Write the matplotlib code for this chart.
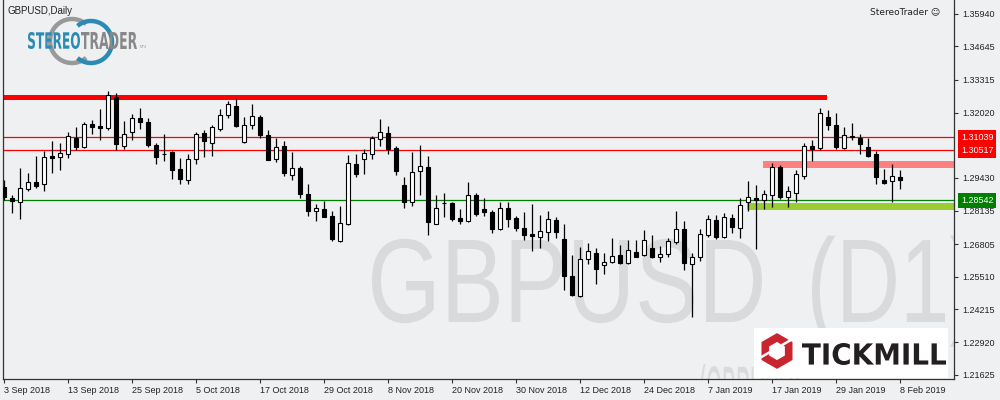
import matplotlib
matplotlib.use("Agg")
import matplotlib.pyplot as plt
import numpy as np
import pandas as pd
from matplotlib.patches import PathPatch, Rectangle, RegularPolygon, Arc
from matplotlib.textpath import TextPath
from matplotlib.font_manager import FontProperties
from matplotlib.transforms import Affine2D, IdentityTransform

# GBPUSD daily, 3 Sep 2018 - 8 Feb 2019 (MT4 skips 25 Dec and 1 Jan)
days = pd.bdate_range("2018-09-03", "2019-02-08")
days = days[~days.isin(pd.to_datetime(["2018-12-25", "2019-01-01"]))]

opens = [1.2907, 1.2863, 1.2849, 1.2900, 1.2926, 1.2918, 1.3031, 1.3025, 1.3039, 1.3102,
         1.3064, 1.3155, 1.3149, 1.3140, 1.3264, 1.3071, 1.3124, 1.3179, 1.3165, 1.3072,
         1.3037, 1.3046, 1.2978, 1.2936, 1.3018, 1.3120, 1.3083, 1.3138, 1.3191, 1.3228,
         1.3084, 1.3151, 1.3184, 1.3113, 1.3018, 1.3069, 1.2956, 1.2982, 1.2879, 1.2813,
         1.2820, 1.2792, 1.2694, 1.2761, 1.2998, 1.3016, 1.3037, 1.3096, 1.3120, 1.3061,
         1.2915, 1.2846, 1.2969, 1.2986, 1.2761, 1.2844, 1.2844, 1.2784, 1.2771, 1.2874,
         1.2820, 1.2808, 1.2739, 1.2823, 1.2784, 1.2746, 1.2721, 1.2708, 1.2730, 1.2776,
         1.2700, 1.2553, 1.2475, 1.2620, 1.2645, 1.2597, 1.2608, 1.2636, 1.2604, 1.2649,
         1.2639, 1.2664, 1.2628, 1.2641, 1.2688, 1.2739, 1.2600, 1.2628, 1.2715, 1.2775,
         1.2710, 1.2783, 1.2743, 1.2849, 1.2862, 1.2855, 1.2874, 1.2985, 1.2868, 1.2884,
         1.2952, 1.3068, 1.3063, 1.3183, 1.3153, 1.3063, 1.3106, 1.3101, 1.3065, 1.3038,
         1.2935, 1.2929, 1.2947]
highs = [1.2935, 1.2875, 1.2982, 1.2962, 1.3031, 1.3051, 1.3089, 1.3081, 1.3125, 1.3145,
         1.3165, 1.3174, 1.3217, 1.3289, 1.3279, 1.3168, 1.3196, 1.3220, 1.3179, 1.3080,
         1.3117, 1.3051, 1.3022, 1.3039, 1.3126, 1.3132, 1.3153, 1.3217, 1.3249, 1.3258,
         1.3183, 1.3236, 1.3191, 1.3133, 1.3101, 1.3089, 1.3046, 1.2990, 1.2919, 1.2840,
         1.2853, 1.2812, 1.2832, 1.3034, 1.3039, 1.3056, 1.3110, 1.3176, 1.3149, 1.3069,
         1.2947, 1.3046, 1.3073, 1.3029, 1.2874, 1.2883, 1.2846, 1.2819, 1.2927, 1.2883,
         1.2862, 1.2817, 1.2848, 1.2848, 1.2792, 1.2808, 1.2838, 1.2796, 1.2812, 1.2789,
         1.2760, 1.2637, 1.2669, 1.2685, 1.2664, 1.2645, 1.2704, 1.2677, 1.2697, 1.2697,
         1.2737, 1.2716, 1.2672, 1.2704, 1.2811, 1.2771, 1.2644, 1.2740, 1.2797, 1.2797,
         1.2803, 1.2799, 1.2862, 1.2930, 1.2915, 1.2894, 1.3001, 1.2994, 1.2910, 1.2974,
         1.3080, 1.3093, 1.3220, 1.3213, 1.3200, 1.3145, 1.3161, 1.3117, 1.3102, 1.3050,
         1.2978, 1.2997, 1.2974]
lows = [1.2855, 1.2805, 1.2780, 1.2891, 1.2904, 1.2891, 1.2962, 1.2976, 1.3023, 1.3054,
        1.3061, 1.3117, 1.3094, 1.3134, 1.3054, 1.3058, 1.3094, 1.3138, 1.3064, 1.2999,
        1.3011, 1.2939, 1.2919, 1.2919, 1.2999, 1.3026, 1.3031, 1.3130, 1.3182, 1.3145,
        1.3082, 1.3138, 1.3100, 1.3013, 1.3007, 1.2952, 1.2936, 1.2864, 1.2793, 1.2773,
        1.2788, 1.2692, 1.2690, 1.2757, 1.2948, 1.2960, 1.3018, 1.3071, 1.3039, 1.2956,
        1.2825, 1.2833, 1.2875, 1.2718, 1.2759, 1.2789, 1.2772, 1.2761, 1.2767, 1.2793,
        1.2793, 1.2723, 1.2735, 1.2750, 1.2733, 1.2696, 1.2654, 1.2666, 1.2694, 1.2706,
        1.2499, 1.2476, 1.2471, 1.2603, 1.2524, 1.2563, 1.2606, 1.2600, 1.2603, 1.2629,
        1.2633, 1.2627, 1.2611, 1.2631, 1.2681, 1.2577, 1.2391, 1.2612, 1.2708, 1.2702,
        1.2706, 1.2726, 1.2706, 1.2813, 1.2662, 1.2821, 1.2829, 1.2858, 1.2829, 1.2849,
        1.2940, 1.3011, 1.3054, 1.3134, 1.3056, 1.3056, 1.3093, 1.3039, 1.3026, 1.2920,
        1.2920, 1.2849, 1.2900]
closes = [1.2867, 1.2851, 1.2902, 1.2926, 1.2912, 1.3026, 1.3023, 1.3042, 1.3108, 1.3065,
          1.3157, 1.3146, 1.3142, 1.3270, 1.3079, 1.3116, 1.3179, 1.3166, 1.3073, 1.3027,
          1.3036, 1.2976, 1.2939, 1.3019, 1.3117, 1.3090, 1.3144, 1.3191, 1.3235, 1.3150,
          1.3151, 1.3187, 1.3114, 1.3015, 1.3064, 1.2964, 1.2982, 1.2880, 1.2813, 1.2823,
          1.2789, 1.2702, 1.2764, 1.3001, 1.2960, 1.3042, 1.3101, 1.3124, 1.3059, 1.2972,
          1.2846, 1.2965, 1.2989, 1.2769, 1.2822, 1.2842, 1.2780, 1.2773, 1.2874, 1.2801,
          1.2807, 1.2740, 1.2823, 1.2781, 1.2746, 1.2718, 1.2712, 1.2731, 1.2779, 1.2730,
          1.2555, 1.2479, 1.2620, 1.2652, 1.2581, 1.2608, 1.2632, 1.2607, 1.2656, 1.2631,
          1.2696, 1.2631, 1.2640, 1.2692, 1.2739, 1.2605, 1.2631, 1.2719, 1.2779, 1.2708,
          1.2787, 1.2747, 1.2834, 1.2866, 1.2857, 1.2878, 1.2985, 1.2866, 1.2890, 1.2957,
          1.3068, 1.3059, 1.3200, 1.3154, 1.3067, 1.3112, 1.3108, 1.3079, 1.3031, 1.2948,
          1.2924, 1.2949, 1.2936]

red_levels = [1.31039, 1.30517]
green_level = 1.28542
resistance_zone = (1.3252, 1.3270)
resistance_end = 102.9
sell_zone = (1.2984, 1.3010)
sell_start = 94.9
support_zone = (1.2817, 1.2844)
support_start = 92.9
ytick_values = [1.35940, 1.34645, 1.33315, 1.32020, 1.29430, 1.28135,
                1.26805, 1.25510, 1.24215, 1.22920, 1.21625]

BG = "#EFF0F2"
W, H = 1000, 400


def px(x, y):
    return (x, H - y)


def path_text(s, x0, x1, ytop, ybot, color, family="DejaVu Sans", weight="bold",
              xref=None, yref=None):
    # text drawn as a path, stretched so that xref spans x0..x1 and yref spans ytop..ybot
    fp = FontProperties(family=family, weight=weight)
    tp = TextPath((0, 0), s, size=100, prop=fp)
    rx = TextPath((0, 0), xref or s, size=100, prop=fp).get_extents()
    ry = TextPath((0, 0), yref or s, size=100, prop=fp).get_extents()
    sx = (x1 - x0) / rx.width
    sy = (ybot - ytop) / ry.height
    tr = Affine2D().translate(-rx.x0, -ry.y0).scale(sx, sy).translate(x0, H - ybot)
    return PathPatch(tr.transform_path(tp), fc=color, ec="none", transform=IdentityTransform())


plt.rcParams["font.family"] = ["Liberation Sans", "DejaVu Sans"]
fig = plt.figure(figsize=(10, 4), dpi=100, facecolor=BG)
ax = fig.add_axes([0.003, 0.0525, 0.951, 0.9475], facecolor=BG)

o, h, l, c = map(np.array, (opens, highs, lows, closes))
x = np.arange(len(o))

# watermark
WM = "#D9DADB"
for s, x0, x1, xref in [("GBPUSD", 372, 762, "GBPUSD"), ("(D1)", 812, 945, "(D1")]:
    p = path_text(s, x0, x1, 240, 322, WM, family="Liberation Sans", weight="normal",
                  xref=xref, yref="D")
    p.set_zorder(0.5)
    ax.add_patch(p)
wm2 = path_text("(GBPUSD)", 700, 800, 366, 420, WM, family="Liberation Sans",
                weight="normal", yref="GBPUSD")
wm2.set_zorder(0.5)
ax.add_patch(wm2)

# zones and levels
ax.add_patch(Rectangle((-5, resistance_zone[0]), resistance_end + 5,
                       resistance_zone[1] - resistance_zone[0], fc="#FF0000", ec="none", zorder=1))
ax.add_patch(Rectangle((sell_start, sell_zone[0]), 40, sell_zone[1] - sell_zone[0],
                       fc="#FF8080", ec="none", zorder=1))
ax.add_patch(Rectangle((support_start, support_zone[0]), 40, support_zone[1] - support_zone[0],
                       fc="#9ACD32", ec="none", zorder=1))
for lv in red_levels:
    ax.axhline(lv, color="#FF0000", lw=0.9, zorder=2)
ax.axhline(green_level, color="#008000", lw=0.9, zorder=2)

# candles
up = c >= o
ax.vlines(x, l, h, color="black", lw=0.9, zorder=3)
ax.bar(x, np.maximum(np.abs(c - o), 0.00004), bottom=np.minimum(o, c), width=0.5,
       color=np.where(up, "white", "black"), edgecolor="black", linewidth=0.8, zorder=4)

ax.set_xlim(-0.1, 118.8)
ax.set_ylim(1.2146, 1.3648)

ax.spines["top"].set_visible(False)
for s in ["left", "right", "bottom"]:
    ax.spines[s].set_color("#333333")
    ax.spines[s].set_linewidth(0.9)

ax.yaxis.tick_right()
ax.set_yticks(ytick_values)
ax.set_yticklabels([f"{v:.5f}" for v in ytick_values])
tick_idx = list(range(0, len(days), 8))
ax.set_xticks(tick_idx)
ax.set_xticklabels([f"{days[i].day} {days[i].strftime('%b %Y')}" for i in tick_idx], ha="left")
ax.tick_params(axis="both", direction="out", length=3, width=0.8, color="#333333",
               labelsize=6.5, labelcolor="#222222")
ax.tick_params(axis="x", pad=2)
ax.tick_params(axis="y", pad=3)

# price labels on the right axis
ytr = ax.get_yaxis_transform()
for lv, col in [(red_levels[0], "#FF0000"), (red_levels[1], "#FF0000"), (green_level, "#008000")]:
    ax.text(1.0072, lv, f"{lv:.5f}", transform=ytr, ha="left", va="center", fontsize=6.5,
            color="white", bbox=dict(boxstyle="square,pad=0.3", fc=col, ec="none"),
            clip_on=False, zorder=6)

# header texts
fig.text(7 / W, 1 - 11 / H, "GBPUSD,Daily", fontsize=7, color="#222222", va="center")
fig.text(940 / W, 1 - 12 / H, "StereoTrader \u263A", fontsize=6.5, color="#222222",
         va="center", ha="right", family=["DejaVu Sans"])

# StereoTrader logo
fig.add_artist(Arc(px(72, 41), 44, 44, theta1=50, theta2=310, lw=3.2, color="#999999",
                   transform=IdentityTransform()))
fig.add_artist(Arc(px(91, 42), 42, 42, theta1=-130, theta2=130, lw=3.2, color="#2A8CB5",
                   transform=IdentityTransform()))
fig.add_artist(path_text("STEREO", 28, 80, 32, 49, "#2A8CB5", weight="bold"))
fig.add_artist(path_text("TRADER", 81, 137, 32, 49, "#888888", weight="bold"))
fig.text(140 / W, 1 - 48 / H, "MT4", fontsize=2.5, color="#9B9B9B")

# Tickmill logo
fig.add_artist(Rectangle(px(754, 378), 194, 50, fc="white", ec="none",
                         transform=IdentityTransform(), zorder=10))
fig.add_artist(RegularPolygon(px(777, 351), 6, radius=13.5, fc="none", ec="#C8252F", lw=5.5,
                              transform=IdentityTransform(), zorder=11))
for ang in (np.deg2rad(30), np.deg2rad(210)):
    cx, cy = px(777, 351)
    r0, r1 = 7, 20
    fig.add_artist(plt.Line2D([cx + r0 * np.cos(ang), cx + r1 * np.cos(ang)],
                              [cy + r0 * np.sin(ang) + 3, cy + r1 * np.sin(ang) + 3],
                              color="white", lw=1.8, transform=IdentityTransform(), zorder=12))
tm = path_text("TICKMILL", 802, 946, 343, 365, "#231F20")
tm.set_zorder(11)
fig.add_artist(tm)

fig.savefig("out.png", dpi=100, facecolor=BG)
